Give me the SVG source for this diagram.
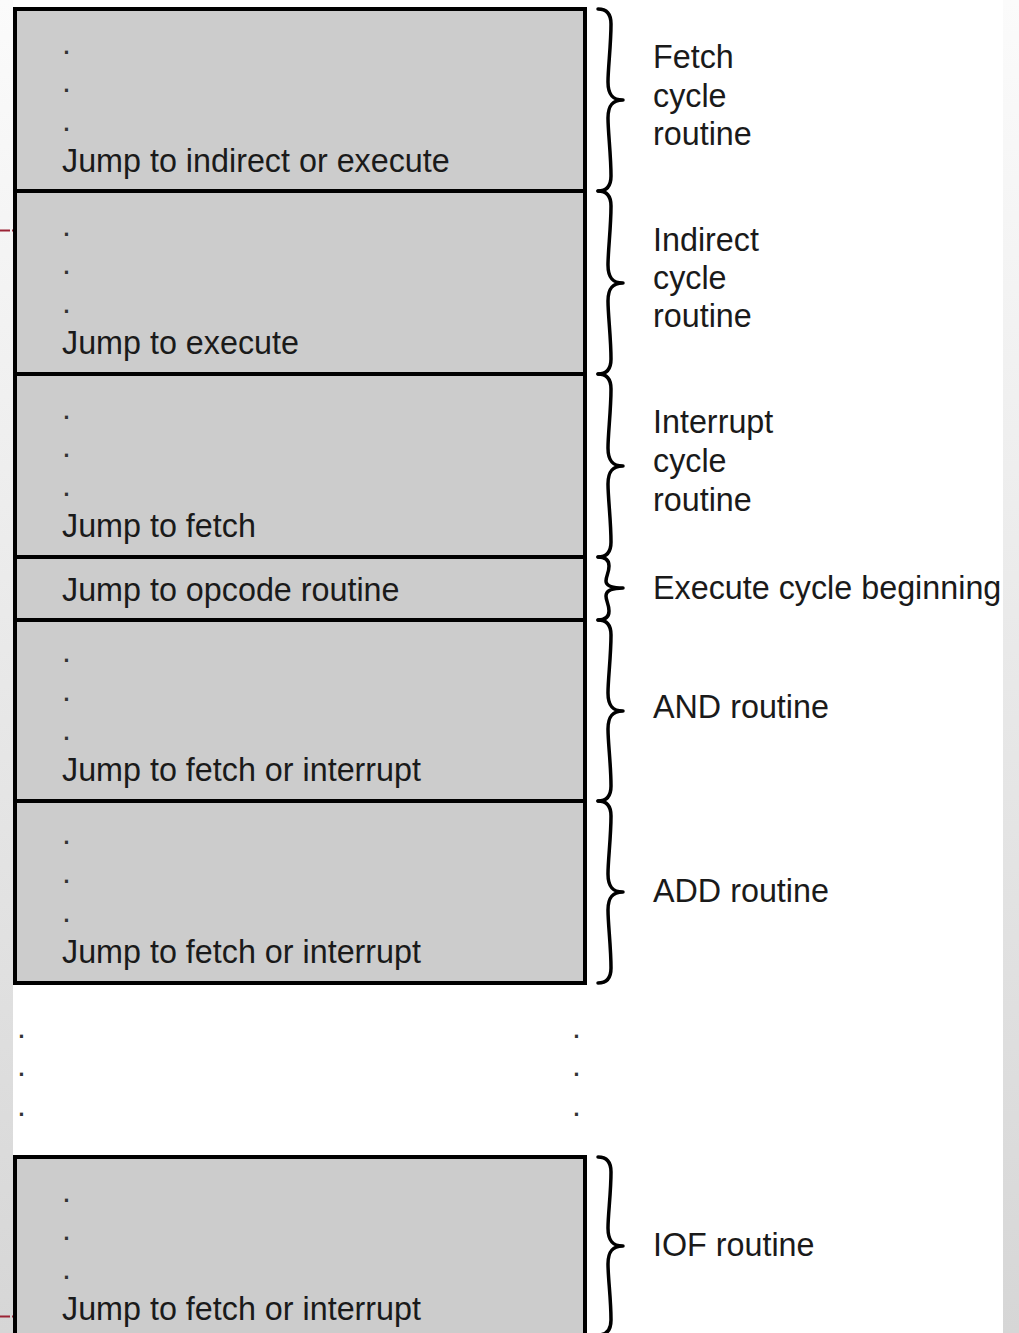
<svg xmlns="http://www.w3.org/2000/svg" width="1019" height="1333" viewBox="0 0 1019 1333">
  <defs>
    <linearGradient id="edgeShade" x1="0" y1="0" x2="0" y2="1">
      <stop offset="0" stop-color="#fbfbfb"/>
      <stop offset="1" stop-color="#d6d6d6"/>
    </linearGradient>
    <style>
      .box { fill: #cccccc; stroke: #000000; stroke-width: 4; }
      .t { font-family: "Liberation Sans", Arial, sans-serif; font-size: 32.3px; fill: #1a1a1a; }
      .dot { font-family: "Liberation Sans", Arial, sans-serif; font-size: 32px; fill: #333333; }
      .brace { fill: none; stroke: #000000; stroke-width: 3.5; stroke-linecap: round; stroke-linejoin: round; }
      .guide { stroke: #9b2335; stroke-width: 2; stroke-dasharray: 10 2; fill: none; }
    </style>
  </defs>

  <!-- page background and side margins -->
  <rect x="0" y="0" width="1019" height="1333" fill="#ffffff"/>
  <rect x="0" y="0" width="13" height="1333" fill="url(#edgeShade)"/>
  <rect x="1003" y="0" width="16" height="1333" fill="url(#edgeShade)"/>
  <line class="guide" x1="0" y1="230.5" x2="13" y2="230.5"/>
  <line class="guide" x1="0" y1="1316.5" x2="13" y2="1316.5"/>

  <!-- control memory blocks -->
  <g id="fetch-block">
    <rect class="box" x="15" y="9" width="570" height="182"/>
    <text class="dot" x="62" y="54">.</text>
    <text class="dot" x="62" y="92">.</text>
    <text class="dot" x="62" y="131">.</text>
    <text class="t" x="62" y="172">Jump to indirect or execute</text>
  </g>
  <g id="indirect-block">
    <rect class="box" x="15" y="191" width="570" height="183"/>
    <text class="dot" x="62" y="236">.</text>
    <text class="dot" x="62" y="274">.</text>
    <text class="dot" x="62" y="313">.</text>
    <text class="t" x="62" y="354">Jump to execute</text>
  </g>
  <g id="interrupt-block">
    <rect class="box" x="15" y="374" width="570" height="183"/>
    <text class="dot" x="62" y="419">.</text>
    <text class="dot" x="62" y="457">.</text>
    <text class="dot" x="62" y="496">.</text>
    <text class="t" x="62" y="537">Jump to fetch</text>
  </g>
  <g id="execute-block">
    <rect class="box" x="15" y="557" width="570" height="63"/>
    <text class="t" x="62" y="601">Jump to opcode routine</text>
  </g>
  <g id="and-block">
    <rect class="box" x="15" y="620" width="570" height="181"/>
    <text class="dot" x="62" y="662">.</text>
    <text class="dot" x="62" y="701">.</text>
    <text class="dot" x="62" y="740">.</text>
    <text class="t" x="62" y="781">Jump to fetch or interrupt</text>
  </g>
  <g id="add-block">
    <rect class="box" x="15" y="801" width="570" height="182"/>
    <text class="dot" x="62" y="844">.</text>
    <text class="dot" x="62" y="883">.</text>
    <text class="dot" x="62" y="922">.</text>
    <text class="t" x="62" y="963">Jump to fetch or interrupt</text>
  </g>
  <g id="gap-dots">
    <text class="dot" x="17" y="1038">.</text>
    <text class="dot" x="17" y="1076">.</text>
    <text class="dot" x="17" y="1116">.</text>
    <text class="dot" x="572" y="1038">.</text>
    <text class="dot" x="572" y="1076">.</text>
    <text class="dot" x="572" y="1116">.</text>
  </g>
  <g id="iof-block">
    <rect class="box" x="15" y="1157" width="570" height="200"/>
    <text class="dot" x="62" y="1202">.</text>
    <text class="dot" x="62" y="1240">.</text>
    <text class="dot" x="62" y="1279">.</text>
    <text class="t" x="62" y="1320">Jump to fetch or interrupt</text>
  </g>

  <!-- routine labels -->
  <g id="fetch-label">
    <text class="t" x="653" y="68">Fetch</text>
    <text class="t" x="653" y="107">cycle</text>
    <text class="t" x="653" y="145">routine</text>
  </g>
  <g id="indirect-label">
    <text class="t" x="653" y="251">Indirect</text>
    <text class="t" x="653" y="289">cycle</text>
    <text class="t" x="653" y="327">routine</text>
  </g>
  <g id="interrupt-label">
    <text class="t" x="653" y="433">Interrupt</text>
    <text class="t" x="653" y="472">cycle</text>
    <text class="t" x="653" y="511">routine</text>
  </g>
  <g id="execute-label">
    <text class="t" x="653" y="599">Execute cycle beginning</text>
  </g>
  <g id="and-label">
    <text class="t" x="653" y="718">AND routine</text>
  </g>
  <g id="add-label">
    <text class="t" x="653" y="902">ADD routine</text>
  </g>
  <g id="iof-label">
    <text class="t" x="653" y="1256">IOF routine</text>
  </g>

  <!-- braces linking blocks to their labels -->
  <g id="connectors">
    <path class="brace" d="M598,9 C607,9 611,14 611,24 C611,45 608,68 608,82 C608,94 612,100 623,100 C612,100 608,106 608,118 C608,132 611,155 611,176 C611,186 607,191 598,191"/>
    <path class="brace" d="M598,191 C607,191 611,196 611,206 C611,227 608,251 608,265 C608,277 612,283 623,283 C612,283 608,289 608,301 C608,315 611,338 611,359 C611,369 607,374 598,374"/>
    <path class="brace" d="M598,374 C607,374 611,379 611,389 C611,410 608,434 608,448 C608,460 612,466 623,466 C612,466 608,472 608,484 C608,498 611,521 611,542 C611,552 607,557 598,557"/>
    <path class="brace" d="M598,557 C605,557 609,560 609,566 C609,573 606,576 606,581 C606,586 611,588 623,588 C611,588 606,591 606,596 C606,601 609,604 609,611 C609,617 605,620 598,620"/>
    <path class="brace" d="M598,620 C607,620 611,625 611,635 C611,656 608,679 608,693 C608,705 612,711 623,711 C612,711 608,717 608,729 C608,743 611,765 611,786 C611,796 607,801 598,801"/>
    <path class="brace" d="M598,801 C607,801 611,806 611,816 C611,837 608,860 608,874 C608,886 612,892 623,892 C612,892 608,898 608,910 C608,924 611,947 611,968 C611,978 607,983 598,983"/>
    <path class="brace" d="M598,1157 C607,1157 611,1162 611,1172 C611,1193 608,1214 608,1228 C608,1240 612,1246 623,1246 C612,1246 608,1252 608,1264 C608,1278 611,1299 611,1320 C611,1330 607,1335 598,1335"/>
  </g>
</svg>
